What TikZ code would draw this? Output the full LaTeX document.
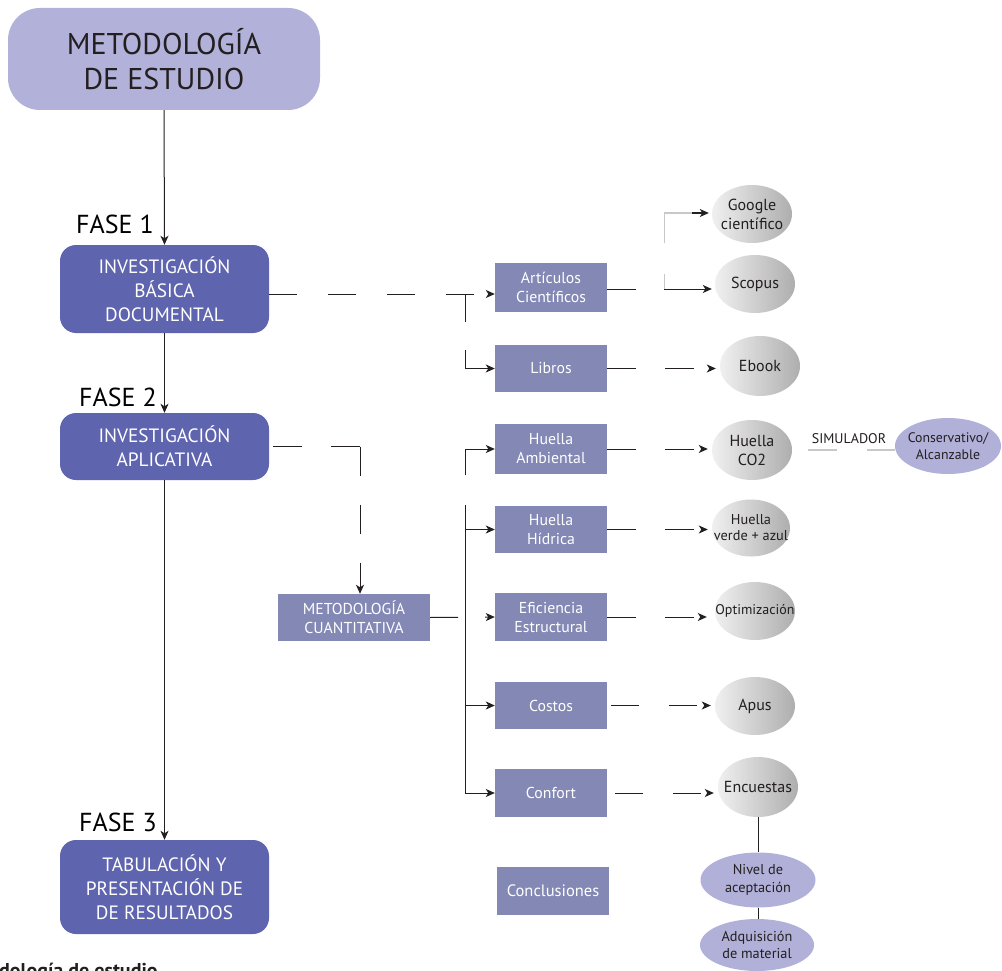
\documentclass[tikz,border=0pt]{standalone}
\usepackage{fontspec}
\setmainfont{PT Sans}
\usetikzlibrary{arrows.meta,shapes.geometric,calc}
\definecolor{topc}{HTML}{B1B1D9}
\definecolor{darkc}{HTML}{5F64AE}
\definecolor{midc}{HTML}{8388B4}
\definecolor{purc}{HTML}{B0B0D8}
\definecolor{gl}{HTML}{F0F0F0}
\definecolor{gr}{HTML}{AEAEAE}
\definecolor{lgray}{HTML}{C8C8C8}
\definecolor{ink}{HTML}{231F20}
\tikzset{
  phasebox/.style={rounded corners=16pt, fill=darkc, text=white, align=center, inner sep=0pt,
     minimum width=209pt, font=\fontsize{19.3}{24}\selectfont},
  mbox/.style={fill=midc, text=white, align=center, inner sep=0pt, minimum width=112pt,
     minimum height=48pt, font=\fontsize{15.8}{19}\selectfont},
  gell/.style={ellipse, left color=gl, right color=gr, text=ink, align=center,
     inner xsep=-12pt, inner ysep=-8pt,
     minimum width=80pt, minimum height=60pt, font=\fontsize{16}{19}\selectfont},
  pell/.style={ellipse, fill=purc, text=ink, align=center, inner xsep=-12pt, inner ysep=-8pt,
     font=\fontsize{14.3}{17.5}\selectfont},
  faselbl/.style={text=black, inner sep=0pt, font=\fontsize{26}{30}\selectfont},
  arr/.style={-{Stealth[length=9pt,width=8pt,inset=2.5pt]}},
  gapped/.style={dash pattern=on 29pt off 29pt},
  conn/.style={line width=1pt, draw=ink},
}
\begin{document}
\begin{tikzpicture}[x=1pt,y=-1pt]
\useasboundingbox (0,0) rectangle (1002,971);
\fill[white] (0,0) rectangle (1002,971);

% left column
\node[rounded corners=32pt, fill=topc, text=ink, align=center, inner sep=0pt,
      minimum width=312pt, minimum height=102pt, font=\fontsize{30}{35}\selectfont]
      (top) at (164,59) {METODOLOGÍA\\DE ESTUDIO};
\node[faselbl] (f1) at (115,224) {FASE 1};
\node[phasebox, minimum height=88pt] (b1) at (164.5,289) {INVESTIGACIÓN\\BÁSICA\\DOCUMENTAL};
\node[faselbl] (f2) at (118,397) {FASE 2};
\node[phasebox, minimum height=67pt] (b2) at (164.5,446.5) {INVESTIGACIÓN\\APLICATIVA};
\node[faselbl] (f3) at (118,822) {FASE 3};
\node[phasebox, minimum height=94pt] (b3) at (164.5,887) {TABULACIÓN Y\\PRESENTACIÓN DE\\DE RESULTADOS};
\node[anchor=north west, inner sep=0pt, text=ink, font=\bfseries\fontsize{20}{22}\selectfont]
      (cap) at (-1,963) {dología de estudio};

\draw[conn,arr] (top.south) -- (b1.north);
\draw[conn,arr] (b1.south) -- (b2.north);
\draw[conn,arr] (b2.south) -- (b3.north);

% middle boxes
\node[mbox, minimum height=49pt] (art) at (551,287.5) {Artículos\\Científicos};
\node[mbox, minimum height=47pt] (lib) at (551,368.5) {Libros};
\node[mbox, minimum height=50pt] (ham) at (551,449) {Huella\\Ambiental};
\node[mbox, minimum height=47pt] (hhi) at (551,529.5) {Huella\\Hídrica};
\node[mbox, minimum height=48pt] (efi) at (551,617) {Eficiencia\\Estructural};
\node[mbox, minimum height=47pt] (cos) at (551,705.5) {Costos};
\node[mbox, minimum height=48pt] (con) at (551,793) {Confort};
\node[mbox, minimum height=48pt, font=\fontsize{16.5}{19}\selectfont] (concl) at (553,891) {Conclusiones};
\node[mbox, minimum width=152pt, minimum height=47pt, font=\fontsize{15.8}{19}\selectfont]
      (mc) at (354,617.5) {METODOLOGÍA\\CUANTITATIVA};

% ellipses
\node[gell, minimum height=58pt] (goo) at (752,214) {Google\\científico};
\node[gell, minimum height=58pt] (sco) at (755,284) {Scopus};
\node[gell] (ebo) at (760,366) {Ebook};
\node[gell] (co2) at (752,450) {Huella\\CO2};
\node[gell, minimum width=78pt, minimum height=57pt, font=\fontsize{14.3}{16}\selectfont] (hva) at (751,528) {Huella\\verde + azul};
\node[gell, minimum height=58pt, font=\fontsize{14}{16}\selectfont] (opt) at (755,611) {Optimización};
\node[gell, minimum height=58pt] (apu) at (755,706) {Apus};
\node[gell] (enc) at (758,787) {Encuestas};
\node[pell, minimum width=106pt, minimum height=56pt, font=\fontsize{13.8}{17}\selectfont] (cons) at (948,446) {Conservativo/\\Alcanzable};
\node[pell, minimum width=115pt, minimum height=55pt] (niv) at (758,880) {Nivel de\\aceptación};
\node[pell, minimum width=114pt, minimum height=52pt] (adq) at (757,945) {Adquisición\\de material};
\node[inner sep=0pt, text=ink, font=\fontsize{14}{16}\selectfont] (sim) at (849,439) {SIMULADOR};

% phase 1 connectors
\coordinate (j1) at (465,294);
\draw[conn,arr,dash pattern=on 28pt off 31pt] (b1.east|-j1) -- (art.west|-j1);
\draw[conn] (j1) -- ++(0,28);
\coordinate (j1b) at (465,350);
\draw[conn,arr] (j1b) |- (lib.west);

\coordinate (j2) at (664,289);
\draw[conn,dash pattern=on 29pt off 30pt] (art.east|-j2) -- (j2);
\draw[line width=1pt, lgray] (j2) -- ++(0,-15);
\coordinate (j2b) at (664,243);
\draw[line width=1pt, lgray] (j2b) |- (692,213);
\draw[conn,arr] (692,213) -- ($(goo.west)+(-3,-1)$);
\draw[conn,arr,shorten >=3pt] (j2) -- (sco.west|-j2);
\draw[conn,arr,gapped,shorten >=4pt] (lib.east) -- (ebo.west|-lib.east);

% phase 2 connectors
\coordinate (j3) at (360,446.5);
\draw[conn,gapped,dash phase=54pt] (b2.east|-j3) -- (j3);
\draw[conn,arr,gapped] (j3) -- (j3|-mc.north);

\draw[conn,arr,dash pattern=on 28pt off 27pt] (mc.east) -- (efi.west);
\coordinate (tA) at (465,475);
\coordinate (tB) at (465,505);
\draw[conn,arr] (tA) |- (ham.west);
\draw[conn,arr] (tB) |- (con.west);
\draw[conn,arr] (tB|-hhi.west) -- (hhi.west);
\draw[conn,arr] (tB|-cos.west) -- (cos.west);

\draw[conn,arr,gapped,shorten >=4pt] (ham.east) -- (co2.west|-ham.east);
\draw[conn,arr,gapped,shorten >=4pt] (hhi.east) -- (hva.west|-hhi.east);
\draw[conn,arr,gapped,shorten >=8pt] (efi.east) -- (opt.west|-efi.east);
\draw[conn,arr,dash pattern=on 28pt off 30pt,dash phase=54pt,shorten >=4pt] (cos.east) -- (apu.west|-cos.east);
\draw[conn,arr,dash pattern=on 28pt off 30pt,dash phase=50pt,shorten >=4pt] (con.east) -- (enc.west|-con.east);

\draw[line width=1.5pt, lgray, dash pattern=on 29pt off 30pt, dash phase=43pt] (co2.east) -- (co2.east-|cons.west);

\draw[conn] (enc.south) -- (enc.south|-niv.north);
\draw[conn] (niv.south) -- (niv.south|-adq.north);
\end{tikzpicture}
\end{document}
